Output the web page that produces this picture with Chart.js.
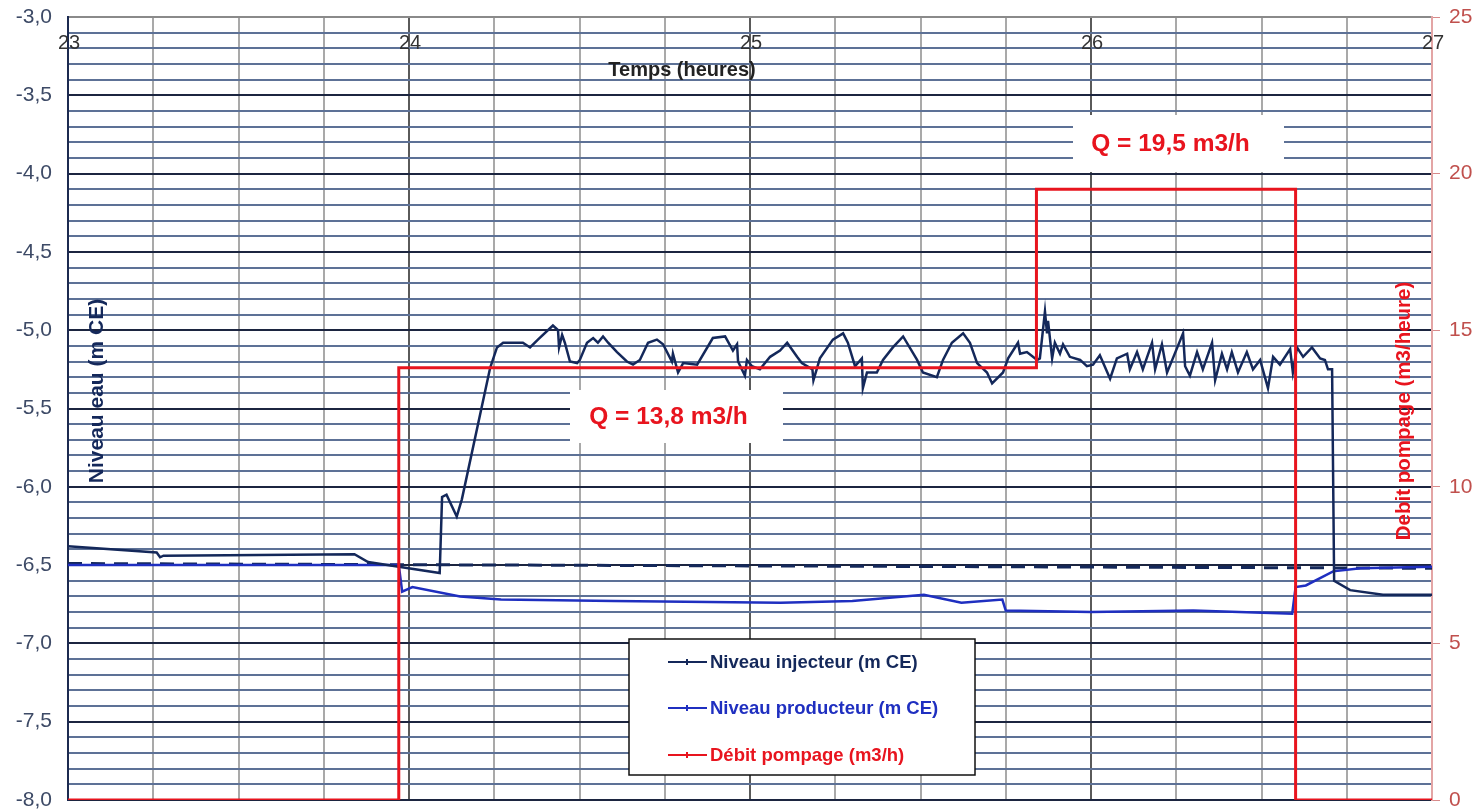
<!DOCTYPE html>
<html>
<head>
<meta charset="utf-8">
<script src="https://cdn.jsdelivr.net/npm/chart.js@4/dist/chart.umd.min.js"></script>
<style>
  body { margin: 0; background: #fff; }
  canvas { display: block; }
</style>
</head>
<body>
<canvas id="chart" width="1478" height="811"></canvas>
<script>
// time in hours
const injTime = [
  23.0, 23.26, 23.27, 23.28, 23.84, 23.88, 23.97, 24.09, 24.097, 24.11,
  24.14, 24.155, 24.238, 24.258, 24.276, 24.334, 24.355, 24.378, 24.422, 24.437,
  24.440, 24.449, 24.457, 24.472, 24.493, 24.501, 24.522, 24.540, 24.554, 24.569,
  24.584, 24.610, 24.639, 24.657, 24.677, 24.701, 24.727, 24.745, 24.771, 24.774,
  24.789, 24.804, 24.845, 24.891, 24.927, 24.950, 24.962, 24.965, 24.985, 24.991,
  25.006, 25.029, 25.059, 25.088, 25.109, 25.138, 25.152, 25.183, 25.186, 25.205,
  25.243, 25.273, 25.287, 25.308, 25.328, 25.331, 25.343, 25.372, 25.390, 25.419,
  25.449, 25.490, 25.507, 25.548, 25.566, 25.592, 25.625, 25.645, 25.666, 25.695,
  25.710, 25.742, 25.757, 25.786, 25.792, 25.812, 25.842, 25.850, 25.865, 25.871,
  25.874, 25.886, 25.894, 25.909, 25.918, 25.938, 25.968, 25.988, 26.006, 26.026,
  26.056, 26.076, 26.106, 26.114, 26.135, 26.152, 26.179, 26.188, 26.208, 26.223,
  26.240, 26.270, 26.276, 26.290, 26.311, 26.328, 26.355, 26.364, 26.384, 26.399,
  26.413, 26.431, 26.457, 26.475, 26.496, 26.510, 26.519, 26.534, 26.554, 26.584,
  26.592, 26.604, 26.622, 26.648, 26.672, 26.686, 26.695, 26.707, 26.713, 26.760,
  26.856, 27.0
];
// niveau injecteur (m CE)
const injLevel = [
  -6.38, -6.42, -6.45, -6.44, -6.43, -6.48, -6.51, -6.55, -6.065, -6.05,
  -6.19, -6.08, -5.24, -5.11, -5.08, -5.08, -5.11, -5.06, -4.97, -5.00,
  -5.11, -5.03, -5.08, -5.20, -5.21, -5.19, -5.08, -5.05, -5.08, -5.04,
  -5.08, -5.14, -5.20, -5.22, -5.19, -5.08, -5.06, -5.09, -5.20, -5.15,
  -5.27, -5.21, -5.22, -5.05, -5.04, -5.13, -5.09, -5.20, -5.29, -5.19,
  -5.23, -5.25, -5.17, -5.13, -5.08, -5.17, -5.21, -5.25, -5.32, -5.18,
  -5.06, -5.02, -5.08, -5.23, -5.18, -5.37, -5.27, -5.27, -5.19, -5.11,
  -5.04, -5.19, -5.27, -5.30, -5.19, -5.08, -5.02, -5.08, -5.21, -5.27,
  -5.34, -5.27, -5.18, -5.08, -5.15, -5.14, -5.19, -5.18, -4.88, -5.02,
  -4.94, -5.18, -5.08, -5.15, -5.09, -5.17, -5.19, -5.23, -5.22, -5.16,
  -5.31, -5.18, -5.15, -5.25, -5.14, -5.25, -5.08, -5.25, -5.09, -5.27,
  -5.18, -5.02, -5.23, -5.29, -5.14, -5.25, -5.08, -5.32, -5.15, -5.25,
  -5.14, -5.27, -5.14, -5.25, -5.19, -5.30, -5.37, -5.17, -5.22, -5.12,
  -5.27, -5.11, -5.17, -5.11, -5.18, -5.19, -5.25, -5.25, -6.60, -6.66,
  -6.69, -6.69
];

const prodTime = [
  23.0, 23.5, 23.97, 23.98, 24.01, 24.15, 24.27, 24.6, 25.09, 25.3,
  25.51, 25.62, 25.74, 25.75, 26.0, 26.3, 26.59, 26.6, 26.63, 26.71,
  26.79, 27.0
];
// niveau producteur (m CE)
const prodLevel = [
  -6.50, -6.50, -6.50, -6.67, -6.64, -6.70, -6.72, -6.73, -6.74, -6.73,
  -6.69, -6.74, -6.72, -6.79, -6.80, -6.79, -6.81, -6.64, -6.63, -6.54,
  -6.52, -6.51
];

// dashed reference level
const refTime = [23.0, 27.0];
const refLevel = [-6.49, -6.52];

// débit pompage (m3/h)
const flowTime = [23.0, 23.97, 23.97, 25.84, 25.84, 26.6, 26.6, 27.0];
const flowRate = [0, 0, 13.8, 13.8, 19.5, 19.5, 0, 0];

const hourLabels = [23, 24, 25, 26, 27];

const seriesNames = ["Niveau injecteur (m CE)", "Niveau producteur (m CE)", "Débit pompage (m3/h)"];
const noteTexts = ["Q = 13,8 m3/h", "Q = 19,5 m3/h"];

const NAVY = "#14285a";
const BLUE = "#1f2fc0";
const RED = "#e8141e";
const FONT = "'Liberation Sans', Arial, sans-serif";

const pts = (xs, ys) => xs.map((x, i) => ({ x: x, y: ys[i] }));

const overlay = {
  id: "overlay",
  afterDatasetsDraw(chart) {
    const { ctx, scales } = chart;
    const x = scales.x;
    ctx.save();

    // flow annotations
    const boxes = [
      { x0: 570, y0: 390, x1: 783, y1: 443 },
      { x0: 1073, y0: 115, x1: 1284, y1: 172 }
    ];
    noteTexts.forEach((txt, i) => {
      const b = boxes[i];
      ctx.fillStyle = "#fff";
      ctx.fillRect(b.x0, b.y0, b.x1 - b.x0, b.y1 - b.y0);
      ctx.fillStyle = RED;
      ctx.font = "bold 24.5px " + FONT;
      ctx.textAlign = "center";
      ctx.textBaseline = "middle";
      ctx.fillText(txt, (b.x0 + b.x1) / 2 - 8, (b.y0 + b.y1) / 2 + 1);
    });

    // hour labels inside the plot
    ctx.fillStyle = "#333";
    ctx.font = "20px " + FONT;
    ctx.textAlign = "center";
    ctx.textBaseline = "middle";
    hourLabels.forEach(h => ctx.fillText(String(h), x.getPixelForValue(h) + 1, 43));

    ctx.font = "bold 20px " + FONT;
    ctx.fillStyle = "#222";
    ctx.fillText("Temps (heures)", 682, 70);

    // axis titles
    ctx.save();
    ctx.translate(97, 391);
    ctx.rotate(-Math.PI / 2);
    ctx.fillStyle = NAVY;
    ctx.font = "bold 21px " + FONT;
    ctx.fillText("Niveau eau (m CE)", 0, 0);
    ctx.restore();

    ctx.save();
    ctx.translate(1404, 411);
    ctx.rotate(-Math.PI / 2);
    ctx.fillStyle = RED;
    ctx.font = "bold 20.5px " + FONT;
    ctx.fillText("Debit pompage (m3/heure)", 0, 0);
    ctx.restore();

    // legend
    const lx = 629, ly = 639, lw = 346, lh = 136;
    ctx.fillStyle = "#fff";
    ctx.fillRect(lx, ly, lw, lh);
    ctx.strokeStyle = "#111";
    ctx.lineWidth = 1.5;
    ctx.strokeRect(lx, ly, lw, lh);
    const cols = [NAVY, BLUE, RED];
    const rows = [662, 708, 755];
    ctx.font = "bold 18.5px " + FONT;
    ctx.textAlign = "left";
    seriesNames.forEach((name, i) => {
      ctx.strokeStyle = cols[i];
      ctx.lineWidth = 2;
      ctx.beginPath();
      ctx.moveTo(668, rows[i]);
      ctx.lineTo(707, rows[i]);
      ctx.moveTo(687, rows[i] - 3);
      ctx.lineTo(687, rows[i] + 3);
      ctx.stroke();
      ctx.fillStyle = cols[i];
      ctx.fillText(name, 710, rows[i] + 1);
    });

    ctx.restore();
  }
};

const isMajor = v => Math.round(v * 10) % 5 === 0;
const noEndPadding = s => { s.paddingTop = 0; s.paddingBottom = 0; };

new Chart(document.getElementById("chart"), {
  type: "line",
  data: {
    datasets: [
      {
        label: seriesNames[0],
        data: pts(injTime, injLevel),
        borderColor: NAVY,
        borderWidth: 2.5,
        yAxisID: "y",
        order: 1
      },
      {
        label: seriesNames[1],
        data: pts(prodTime, prodLevel),
        borderColor: BLUE,
        borderWidth: 2.5,
        yAxisID: "y",
        order: 2
      },
      {
        label: seriesNames[2],
        data: pts(flowTime, flowRate),
        borderColor: RED,
        borderWidth: 3,
        yAxisID: "y2",
        order: 0
      },
      {
        label: "ref",
        data: pts(refTime, refLevel),
        borderColor: NAVY,
        borderWidth: 3,
        borderDash: [14, 9],
        yAxisID: "y",
        order: 3
      }
    ]
  },
  options: {
    responsive: false,
    devicePixelRatio: 1,
    animation: false,
    layout: { padding: { top: 17, left: 0, right: 0, bottom: 0 } },
    elements: {
      point: { radius: 0 },
      line: { tension: 0 }
    },
    plugins: {
      legend: { display: false },
      tooltip: { enabled: false }
    },
    scales: {
      x: {
        type: "linear",
        min: 23,
        max: 27,
        ticks: { display: false, stepSize: 0.25 },
        grid: {
          drawTicks: false,
          lineWidth: 2,
          color: ctx => (ctx.tick && Math.abs(ctx.tick.value - Math.round(ctx.tick.value)) < 1e-6) ? "#5a5a5a" : "#a9a9a9"
        },
        border: { display: false },
        afterFit: s => { s.height = 11; }
      },
      y: {
        position: "left",
        min: -8,
        max: -3,
        ticks: {
          stepSize: 0.1,
          maxTicksLimit: 100,
          autoSkip: false,
          padding: 16,
          color: "#3d4a66",
          font: { size: 21, family: FONT },
          callback: v => isMajor(v) ? v.toFixed(1).replace(".", ",") : ""
        },
        grid: {
          drawTicks: false,
          lineWidth: 2,
          color: ctx => {
            const v = ctx.tick ? ctx.tick.value : 0;
            if (Math.abs(v + 3) < 1e-6) return "#8a8a8a";
            return isMajor(v) ? "#1c2540" : "#5d7196";
          }
        },
        border: { color: "#1c2a50", width: 2 },
        afterFit: s => { s.width = 68; noEndPadding(s); }
      },
      y2: {
        position: "right",
        min: 0,
        max: 25,
        ticks: {
          stepSize: 5,
          padding: 9,
          color: "#c0504d",
          font: { size: 21, family: FONT }
        },
        grid: { drawOnChartArea: false, tickLength: 8, color: "#d88a8a" },
        border: { color: "#e3a5a5", width: 2 },
        afterFit: s => { s.width = 46; noEndPadding(s); }
      }
    }
  },
  plugins: [overlay]
});
</script>
</body>
</html>
